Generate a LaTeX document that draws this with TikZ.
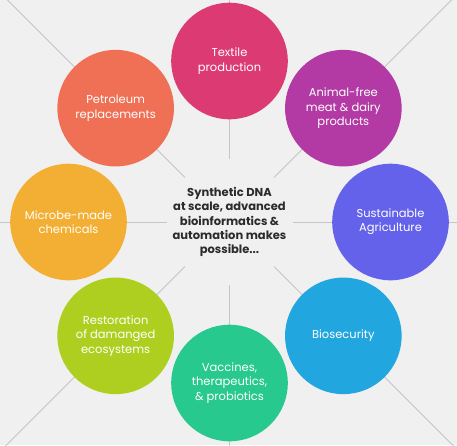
\documentclass[tikz,border=0pt]{standalone}
\usepackage{fontspec}
\setmainfont{Poppins}
\definecolor{bg}{HTML}{F0F0F0}
\definecolor{spokec}{HTML}{C6C6C6}
\definecolor{ctext}{HTML}{2B2B2B}
\definecolor{cTex}{HTML}{DC3A73}
\definecolor{cAni}{HTML}{B33AA4}
\definecolor{cSus}{HTML}{6462EA}
\definecolor{cBio}{HTML}{22A6DF}
\definecolor{cVac}{HTML}{27C98E}
\definecolor{cRes}{HTML}{AECF1F}
\definecolor{cMic}{HTML}{F3AF34}
\definecolor{cPet}{HTML}{EF7055}
\begin{document}
\begin{tikzpicture}[x=1pt,y=1pt,
  spoke/.style={draw=spokec,line width=1pt},
  bubble/.style={circle,minimum size=116.6pt,inner sep=0pt,text=white,align=center,
    font=\fontsize{11.5}{14.3}\selectfont},
  hub/.style={align=center,text=ctext,font=\bfseries\fontsize{11.5}{14.3}\selectfont}]
\fill[bg] (0,0) rectangle (457,-445);
\useasboundingbox (0,0) rectangle (457,-445);
\clip (0,0) rectangle (457,-445);
\coordinate (C) at (229.5,-222);
\foreach \a in {0,45,...,315}{
  \coordinate (i\a) at ([shift={(\a:63)}]C);
  \coordinate (o\a) at ([shift={(\a:400)}]C);
  \draw[spoke] (i\a) -- (o\a);
}
\node[hub] (hub) at (C) {Synthetic DNA\\at scale, advanced\\bioinformatics \&\\automation makes\\possible...};
\node[bubble,fill=cTex] (tex) at ([shift={(90:161)}]C) {Textile\\production};
\node[bubble,fill=cAni] (ani) at ([shift={(45:161)}]C) {Animal-free\\meat \& dairy\\products};
\node[bubble,fill=cSus] (sus) at ([shift={(0:161)}]C) {Sustainable\\Agriculture};
\node[bubble,fill=cBio] (bio) at ([shift={(-45:161)}]C) {Biosecurity};
\node[bubble,fill=cVac] (vac) at ([shift={(-90:161)}]C) {Vaccines,\\therapeutics,\\\& probiotics};
\node[bubble,fill=cRes] (res) at ([shift={(-135:161)}]C) {Restoration\\of damanged\\ecosystems};
\node[bubble,fill=cMic] (mic) at ([shift={(180:161)}]C) {Microbe-made\\chemicals};
\node[bubble,fill=cPet] (pet) at ([shift={(135:161)}]C) {Petroleum\\replacements};
\end{tikzpicture}
\end{document}
